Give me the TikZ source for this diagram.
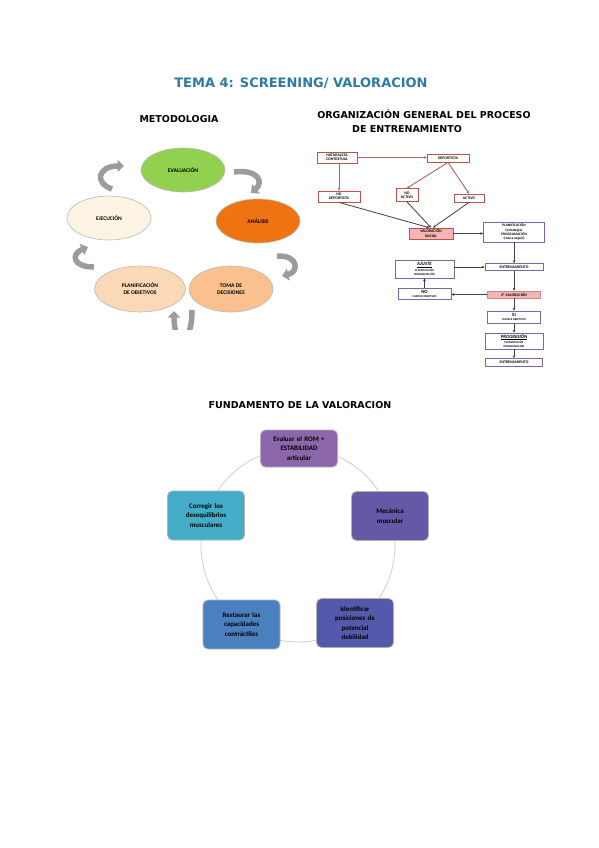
\documentclass[tikz,border=0pt]{standalone}
\usepackage{fontspec}
\setmainfont{Carlito}
\newfontfamily\headfont{DejaVu Sans}
\usetikzlibrary{shapes.geometric,arrows.meta,positioning}

\definecolor{titleblue}{HTML}{2B7BA3}
\definecolor{evagreen}{HTML}{92D050}
\definecolor{anaorange}{HTML}{EE7412}
\definecolor{ejecream}{HTML}{FDF3E3}
\definecolor{plapeach}{HTML}{FCD9B6}
\definecolor{tomapeach}{HTML}{FAC08F}
\definecolor{redline}{HTML}{C0504D}
\definecolor{brownline}{HTML}{B0625E}
\definecolor{pinkfill}{HTML}{F4B6B4}
\definecolor{purpleline}{HTML}{8064A2}
\definecolor{arrowgray}{HTML}{9C9C9C}
\definecolor{romviolet}{HTML}{8B67A9}
\definecolor{mecviolet}{HTML}{6657A7}
\definecolor{idenblue}{HTML}{5559AB}
\definecolor{restblue}{HTML}{4A80BE}
\definecolor{corrcyan}{HTML}{45ACC8}

\tikzset{
  headline/.style={font=\headfont\bfseries\fontsize{9.5}{11}\selectfont},
  metbox/.style={ellipse, draw=gray!55, line width=0.6pt, minimum width=84pt, minimum height=44pt,
    inner sep=0pt, align=center, font=\fontsize{5.6}{6.8}\selectfont\bfseries},
  cyclearrow/.style={line width=5.5pt, draw=arrowgray, -{Triangle[length=6.5pt,width=12pt]}},
  redbox/.style={draw=redline, line width=0.8pt, fill=white, inner sep=0.5pt, align=center,
    font=\fontsize{3.9}{4.4}\selectfont\bfseries},
  purplebox/.style={draw=purpleline, line width=0.8pt, fill=white, inner sep=0.5pt, align=center,
    font=\fontsize{3.9}{4.4}\selectfont\bfseries},
  redconn/.style={draw=brownline, line width=0.9pt, -{Stealth[length=2.5pt,width=2.5pt]}},
  darkconn/.style={draw=black!75, line width=0.8pt, -{Stealth[length=2.8pt,width=2.8pt]}},
  fundbox/.style={rounded corners=5pt, draw=gray!60, line width=0.8pt, minimum width=77pt,
    minimum height=49pt, text width=62pt, align=center, font=\fontsize{6.9}{9.3}\selectfont\bfseries}
}

\begin{document}
\begin{tikzpicture}[x=1pt,y=1pt]
  \useasboundingbox[fill=white] (0,0) rectangle (599,-848);

  % Titles
  \node[font=\headfont\bfseries\fontsize{13}{15}\selectfont, text=titleblue] (title) at (301,-83) {TEMA 4: SCREENING/ VALORACION};
  \node[headline] (metodo) at (179,-119) {METODOLOGIA};
  \node[headline] (orgtitle) at (424,-114) {ORGANIZACIÓN GENERAL DEL PROCESO};
  \node[headline] (orgtitle2) at (407,-129) {DE ENTRENAMIENTO};

  % Methodology cycle
  \node[metbox, fill=evagreen] (eva) at (183,-170) {EVALUACIÓN};
  \node[metbox, fill=anaorange] (ana) at (258,-221) {ANÁLISIS};
  \node[metbox, fill=ejecream] (eje) at (109,-218) {EJECUCIÓN};
  \node[metbox, fill=plapeach, minimum width=91pt, minimum height=46pt] (plan) at (140,-289) {PLANIFICACIÓN\\DE OBJETIVOS};
  \node[metbox, fill=tomapeach, minimum height=46pt] (toma) at (231,-289) {TOMA DE\\DECISIONES};

  % Cycle arrows
  \draw[cyclearrow] (112,-189) .. controls (94,-183) and (98,-166) .. (124,-166);
  \draw[cyclearrow] (234,-172) .. controls (258,-169) and (264,-182) .. (251,-193);
  \draw[cyclearrow] (277,-256) .. controls (299,-255) and (299,-272) .. (282,-276);
  \draw[cyclearrow] (94,-267) .. controls (72,-267) and (71,-254) .. (88,-247);
  \begin{scope}
    \clip (150,-300) rectangle (210,-329);
    \draw[cyclearrow] (192,-310) .. controls (192,-348) and (174,-348) .. (174,-311);
  \end{scope}

  % Training process
  \node[redbox, minimum width=40pt, minimum height=11pt] (natur) at (337,-157.5) {NATURALEZA\\CONTEXTUAL};
  \node[redbox, minimum width=42pt, minimum height=8pt] (depor) at (448,-158) {DEPORTISTA};
  \node[redbox, minimum width=42pt, minimum height=11pt] (nodep) at (339,-196.5) {NO\\DEPORTISTA};
  \node[redbox, minimum width=22pt, minimum height=13pt] (noact) at (407,-195) {NO\\ACTIVO};
  \node[redbox, minimum width=30pt, minimum height=8pt] (activo) at (469,-198) {ACTIVO};
  \node[redbox, fill=pinkfill, minimum width=44pt, minimum height=11pt] (valini) at (431,-233.5) {VALORACIÓN\\INICIAL};

  \node[purplebox, minimum width=61pt, minimum height=20pt, font=\fontsize{3.6}{4.3}\selectfont\bfseries] (planif) at (514,-232) {PLANIFICACIÓN\\(estrategia)\\PROGRAMACIÓN\\(ruta a seguir)};
  \node[purplebox, minimum width=58pt, minimum height=7pt] (entren) at (514,-267) {ENTRENAMIENTO};
  \node[purplebox, minimum width=59pt, minimum height=18pt] (ajuste) at (424.5,-269) {{\fontsize{4.8}{5.2}\selectfont\underline{\textit{AJUSTE}}}\\{\fontsize{2.9}{3.3}\selectfont PLANIFICACIÓN}\\{\fontsize{2.9}{3.3}\selectfont PROGRAMACIÓN}};
  \node[purplebox, minimum width=53pt, minimum height=11pt] (nocumple) at (424.5,-294) {{\fontsize{4.8}{5.2}\selectfont NO}\\{\fontsize{2.9}{3.3}\selectfont CUMPLE OBJETIVOS}};
  \node[redbox, draw=redline!70, fill=pinkfill, minimum width=53pt, minimum height=7pt] (segval) at (514,-294.5) {2ª VALORACIÓN};
  \node[purplebox, minimum width=53pt, minimum height=12pt] (sicumple) at (514,-317) {{\fontsize{4.8}{5.2}\selectfont SI}\\{\fontsize{2.9}{3.3}\selectfont CUMPLE OBJETIVOS}};
  \node[purplebox, minimum width=58pt, minimum height=16pt] (progres) at (514,-341) {{\fontsize{4.8}{5.2}\selectfont\underline{\textit{PROGRESIÓN}}}\\{\fontsize{2.9}{3.3}\selectfont PLANIFICACIÓN}\\{\fontsize{2.9}{3.3}\selectfont PROGRAMACIÓN}};
  \node[purplebox, minimum width=57pt, minimum height=8pt] (entren2) at (514,-362.5) {ENTRENAMIENTO};

  \draw[redconn] (natur.east) -- (natur.east -| depor.west);
  \draw[redconn] (natur.south -| nodep.north) -- (nodep.north);
  \draw[redconn] (depor.south) -- (noact.north);
  \draw[redconn] (depor.south) -- (activo.north);
  \draw[darkconn] (nodep.south) -- ([xshift=-2pt]valini.north);
  \draw[darkconn] (noact.south) -- (valini.north);
  \draw[darkconn] (activo.south) -- ([xshift=2pt]valini.north);
  \draw[darkconn] (valini.east) -- (valini.east -| planif.west);
  \draw[darkconn] (planif.south) -- (entren.north);
  \draw[darkconn] (entren.west -| ajuste.east) -- (entren.west);
  \draw[darkconn] (entren.south) -- (segval.north);
  \draw[darkconn] (segval.west) -- (segval.west -| nocumple.east);
  \draw[darkconn] (nocumple.north) -- (ajuste.south);
  \draw[darkconn] (segval.south) -- (sicumple.north);
  \draw[darkconn] (sicumple.south) -- (progres.north);
  \draw[darkconn] (progres.south) -- (entren2.north);

  % Fundamento de la valoracion
  \node[headline] (fundtitle) at (300,-405) {FUNDAMENTO DE LA VALORACION};
  \coordinate (fundc) at (298,-545);
  \draw[gray!35, line width=0.9pt] (fundc) circle (97pt);
  \node[fundbox, fill=romviolet, minimum height=37pt] (rom) at (299,-448.5) {Evaluar el ROM +\\ESTABILIDAD\\articular};
  \node[fundbox, fill=mecviolet] (mec) at (390,-516) {Mecánica\\muscular};
  \node[fundbox, fill=idenblue] (iden) at (355,-623) {Identificar\\posiciones de\\potencial\\debilidad};
  \node[fundbox, fill=restblue] (rest) at (241.5,-624.5) {Restaurar las\\capacidades\\contráctiles};
  \node[fundbox, fill=corrcyan] (corr) at (206,-515.5) {Corregir los\\desequilibrios\\musculares};
\end{tikzpicture}
\end{document}
